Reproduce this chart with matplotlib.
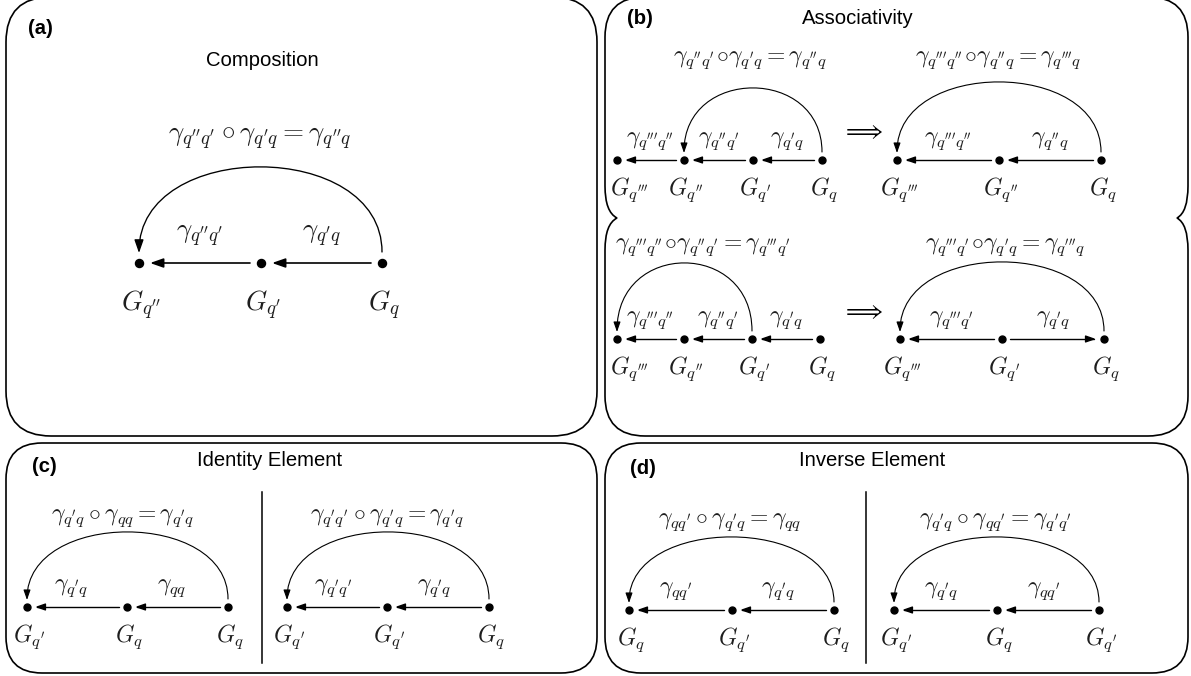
import matplotlib
matplotlib.use("Agg")
import matplotlib.pyplot as plt
from matplotlib.patches import FancyArrowPatch, FancyBboxPatch, PathPatch
from matplotlib.path import Path

plt.rcParams["mathtext.fontset"] = "cm"
plt.rcParams["font.family"] = ["Liberation Sans", "DejaVu Sans"]

W, H = 1191, 676

panel_tags = ["(a)", "(b)", "(c)", "(d)"]
panel_titles = ["Composition", "Associativity", "Identity Element", "Inverse Element"]

# one entry per small diagram: node labels (left to right), edges (src, dst, label),
# the long arc (src, dst) and the formula written above it
comp_nodes = [r"G_{q''}", r"G_{q'}", r"G_q"]
comp_edges = [(2, 1, r"\gamma_{q'q}"), (1, 0, r"\gamma_{q''q'}")]
comp_arc = (2, 0)
comp_formula = r"\gamma_{q''q'} \circ \gamma_{q'q} = \gamma_{q''q}"

assoc1_nodes = [r"G_{q'''}", r"G_{q''}", r"G_{q'}", r"G_q"]
assoc1_edges = [(3, 2, r"\gamma_{q'q}"), (2, 1, r"\gamma_{q''q'}"), (1, 0, r"\gamma_{q'''q''}")]
assoc1_arc = (3, 1)
assoc1_formula = r"\gamma_{q''q'}\!\circ\!\gamma_{q'q} = \gamma_{q''q}"

assoc2_nodes = [r"G_{q'''}", r"G_{q''}", r"G_q"]
assoc2_edges = [(2, 1, r"\gamma_{q''q}"), (1, 0, r"\gamma_{q'''q''}")]
assoc2_arc = (2, 0)
assoc2_formula = r"\gamma_{q'''q''}\!\circ\!\gamma_{q''q} = \gamma_{q'''q}"

assoc3_nodes = [r"G_{q'''}", r"G_{q''}", r"G_{q'}", r"G_q"]
assoc3_edges = [(3, 2, r"\gamma_{q'q}"), (2, 1, r"\gamma_{q''q'}"), (1, 0, r"\gamma_{q'''q''}")]
assoc3_arc = (2, 0)
assoc3_formula = r"\gamma_{q'''q''}\!\circ\!\gamma_{q''q'} = \gamma_{q'''q'}"

assoc4_nodes = [r"G_{q'''}", r"G_{q'}", r"G_q"]
assoc4_edges = [(1, 2, r"\gamma_{q'q}"), (1, 0, r"\gamma_{q'''q'}")]
assoc4_arc = (2, 0)
assoc4_formula = r"\gamma_{q'''q'}\!\circ\!\gamma_{q'q} = \gamma_{q'''q}"

ident1_nodes = [r"G_{q'}", r"G_q", r"G_q"]
ident1_edges = [(2, 1, r"\gamma_{qq}"), (1, 0, r"\gamma_{q'q}")]
ident1_arc = (2, 0)
ident1_formula = r"\gamma_{q'q} \circ \gamma_{qq} = \gamma_{q'q}"

ident2_nodes = [r"G_{q'}", r"G_{q'}", r"G_q"]
ident2_edges = [(2, 1, r"\gamma_{q'q}"), (1, 0, r"\gamma_{q'q'}")]
ident2_arc = (2, 0)
ident2_formula = r"\gamma_{q'q'} \circ \gamma_{q'q} = \gamma_{q'q}"

inv1_nodes = [r"G_q", r"G_{q'}", r"G_q"]
inv1_edges = [(2, 1, r"\gamma_{q'q}"), (1, 0, r"\gamma_{qq'}")]
inv1_arc = (2, 0)
inv1_formula = r"\gamma_{qq'} \circ \gamma_{q'q} = \gamma_{qq}"

inv2_nodes = [r"G_{q'}", r"G_q", r"G_{q'}"]
inv2_edges = [(2, 1, r"\gamma_{qq'}"), (1, 0, r"\gamma_{q'q}")]
inv2_arc = (2, 0)
inv2_formula = r"\gamma_{q'q} \circ \gamma_{qq'} = \gamma_{q'q'}"

TXT = "#1e1e1e"

fig = plt.figure(figsize=(W / 100, H / 100), dpi=100)
ax = fig.add_axes([0, 0, 1, 1])
ax.set_xlim(0, W)
ax.set_ylim(H, 0)
ax.axis("off")


def diagram(xs, y, nodes, edges, arc, formula, fxy, peak, fs, big=False,
            first_dx=0, ldx=0):
    ms = 5.8 if big else 5.0
    gap = 11 if big else 8
    lw = 1.2 if big else 1.0
    mscale = 10 if big else 7.5
    style = "-|>,head_length=0.8,head_width=0.28"
    ax.plot(xs, [y] * len(xs), "o", color="black", ms=ms, zorder=3)
    for i, lab in enumerate(nodes):
        dx = 2 + (first_dx if i == 0 else 0)
        ax.text(xs[i] + dx, y + (26 if big else 15), "$" + lab + "$",
                fontsize=fs, ha="center", va="top", color=TXT)
    for s, d, lab in edges:
        sign = 1 if xs[d] < xs[s] else -1
        p = Path([(xs[s] - sign * gap, y), (xs[d] + sign * gap, y)])
        ax.add_patch(FancyArrowPatch(path=p, arrowstyle=style, mutation_scale=mscale,
                                     lw=lw, color="black"))
        ax.text((xs[s] + xs[d]) / 2 + ldx, y - (14 if big else 8), "$" + lab + "$",
                fontsize=fs, ha="center", va="bottom", color=TXT)
    s, d = arc
    y0 = y - gap
    c = (8 * peak - 2 * y0) / 6
    p = Path([(xs[s], y0), (xs[s], c), (xs[d], c), (xs[d], y0 + 1)],
             [Path.MOVETO, Path.CURVE4, Path.CURVE4, Path.CURVE4])
    ax.add_patch(FancyArrowPatch(path=p, arrowstyle=style, mutation_scale=mscale,
                                 lw=lw * 0.8, color="black"))
    ax.text(fxy[0], fxy[1], "$" + formula + "$", fontsize=fs, ha="center", va="center",
            color=TXT)


def rounded(x, y, w, h, r):
    ax.add_patch(FancyBboxPatch((x, y), w, h, boxstyle=f"round,pad=0,rounding_size={r}",
                                fc="none", ec="black", lw=1.2))


# panel outlines
rounded(6, -3, 591, 439, 45)
rounded(6, 443, 591, 230, 36)
rounded(605, 443, 583, 230, 36)

L, Rr, T, B, J, R, nd = 605, 1188, -3, 436, 218, 40, 32
verts = [(L + R, T), (Rr - R, T),
         (Rr, T), (Rr, T + R),
         (Rr, J - nd),
         (Rr, J - 6), (1177, J),
         (Rr, J + 6), (Rr, J + nd),
         (Rr, B - R),
         (Rr, B), (Rr - R, B),
         (L + R, B),
         (L, B), (L, B - R),
         (L, J + nd),
         (L, J + 6), (617, J),
         (L, J - 6), (L, J - nd),
         (L, T + R),
         (L, T), (L + R, T)]
codes = [Path.MOVETO, Path.LINETO,
         Path.CURVE3, Path.CURVE3,
         Path.LINETO,
         Path.CURVE3, Path.CURVE3,
         Path.CURVE3, Path.CURVE3,
         Path.LINETO,
         Path.CURVE3, Path.CURVE3,
         Path.LINETO,
         Path.CURVE3, Path.CURVE3,
         Path.LINETO,
         Path.CURVE3, Path.CURVE3,
         Path.CURVE3, Path.CURVE3,
         Path.LINETO,
         Path.CURVE3, Path.CURVE3]
ax.add_patch(PathPatch(Path(verts, codes), fc="none", ec="black", lw=1.2))

# dividers in (c) and (d)
ax.plot([262, 262], [492, 663], color="black", lw=1.1)
ax.plot([866, 866], [492, 663], color="black", lw=1.1)

# tags and titles
tag_xy = [(28, 29), (627, 19), (32, 466), (630, 468)]
title_xy = [(262, 60), (858, 18), (270, 460), (872, 460)]
for tag, (x, y) in zip(panel_tags, tag_xy):
    ax.text(x, y, tag, fontsize=14.6, fontweight="bold", ha="left", va="center")
for t, (x, y) in zip(panel_titles, title_xy):
    ax.text(x, y, t, fontsize=14.6, ha="center", va="center")

# diagrams
diagram([139, 261, 382], 263, comp_nodes, comp_edges, comp_arc, comp_formula,
        (260, 139), 167, 19.5, big=True)
diagram([617, 684, 753, 822], 160, assoc1_nodes, assoc1_edges, assoc1_arc,
        assoc1_formula, (750, 60), 88, 17, first_dx=10)
diagram([897, 999, 1101], 160, assoc2_nodes, assoc2_edges, assoc2_arc,
        assoc2_formula, (998, 60), 82, 17)
diagram([617, 684, 752, 820], 339, assoc3_nodes, assoc3_edges, assoc3_arc,
        assoc3_formula, (703, 247), 263, 17, first_dx=10)
diagram([900, 1002, 1104], 339, assoc4_nodes, assoc4_edges, assoc4_arc,
        assoc4_formula, (1005, 247), 262, 17)
diagram([27, 127, 228], 607, ident1_nodes, ident1_edges, ident1_arc,
        ident1_formula, (123, 518), 532, 17, ldx=-6)
diagram([287, 387, 489], 607, ident2_nodes, ident2_edges, ident2_arc,
        ident2_formula, (387, 518), 532, 17, ldx=-4)
diagram([629, 732, 834], 610, inv1_nodes, inv1_edges, inv1_arc,
        inv1_formula, (730, 522), 537, 17, ldx=-5)
diagram([894, 997, 1099], 610, inv2_nodes, inv2_edges, inv2_arc,
        inv2_formula, (995, 522), 537, 17, ldx=-4)

ax.text(862, 132, r"$\Longrightarrow$", fontsize=17, ha="center", va="center")
ax.text(862, 312, r"$\Longrightarrow$", fontsize=17, ha="center", va="center")

fig.savefig("out.png", dpi=100)
